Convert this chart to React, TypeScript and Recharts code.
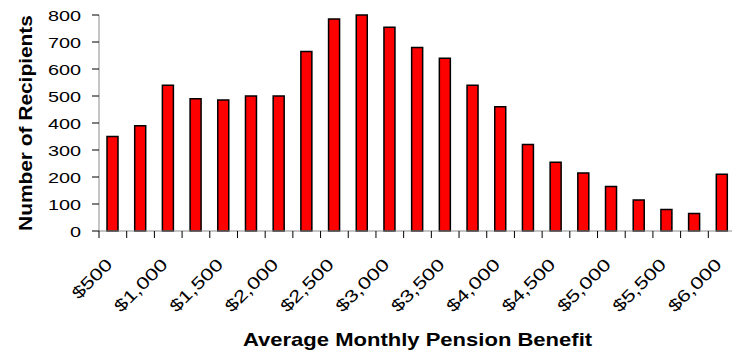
import { BarChart, Bar, XAxis, YAxis } from 'recharts';

// Monthly benefit buckets ($250 wide) and how many recipients fall in each
const amounts = [
  500, 750, 1000, 1250, 1500, 1750, 2000, 2250, 2500, 2750, 3000, 3250,
  3500, 3750, 4000, 4250, 4500, 4750, 5000, 5250, 5500, 5750, 6000,
];
const recipients = [
  350, 390, 540, 490, 485, 500, 500, 665, 785, 800, 755, 680,
  640, 540, 460, 320, 255, 215, 165, 115, 80, 65, 210,
];
const labelAmounts = [500, 1000, 1500, 2000, 2500, 3000, 3500, 4000, 4500, 5000, 5500, 6000];
const countTicks = [0, 100, 200, 300, 400, 500, 600, 700, 800];

const FONT = "'Liberation Sans', Arial, sans-serif";

const step = amounts[1] - amounts[0];
// tick marks sit between the buckets, labels under every other bucket
const edges = [...amounts.map((a) => a - step / 2), amounts[amounts.length - 1] + step / 2];
const domain: [number, number] = [edges[0], edges[edges.length - 1]];
const xTicks = [...edges, ...labelAmounts].sort((a, b) => a - b);

const data = amounts.map((amount, i) => ({ amount, recipients: recipients[i] }));

const money = (v: number) => `$${v.toLocaleString('en-US')}`;

function CountTick({ x, y, payload }: any) {
  return (
    <g transform={`translate(${x},${y}) scale(1.28,1)`}>
      <text x={0} y={0} dy="0.36em" textAnchor="end" fontSize={15.5} fontFamily={FONT} fill="#000">
        {payload.value}
      </text>
    </g>
  );
}

function AmountTick({ x, y, payload }: any) {
  const v = payload.value;
  if (edges.includes(v)) {
    return <line x1={x} x2={x} y1={y} y2={y + 7} stroke="#000" strokeWidth={1} />;
  }
  return (
    <g transform={`translate(${x - 8},${y + 26}) rotate(-45) scale(1.3,1)`}>
      <text x={0} y={0} dy="0.71em" textAnchor="end" fontSize={17} fontFamily={FONT} fill="#000">
        {money(v)}
      </text>
    </g>
  );
}

function YTitle({ viewBox }: any) {
  const cx = viewBox.x + 32;
  const cy = viewBox.y + viewBox.height / 2;
  return (
    <g transform={`translate(${cx},${cy}) rotate(-90) scale(1.13,1)`}>
      <text x={0} y={0} textAnchor="middle" fontSize={18.5} fontWeight="bold" fontFamily={FONT} fill="#000">
        Number of Recipients
      </text>
    </g>
  );
}

function XTitle({ viewBox }: any) {
  const cx = viewBox.x + viewBox.width / 2;
  const cy = viewBox.y + 115;
  return (
    <g transform={`translate(${cx},${cy}) scale(1.16,1)`}>
      <text x={0} y={0} textAnchor="middle" fontSize={19} fontWeight="bold" fontFamily={FONT} fill="#000">
        Average Monthly Pension Benefit
      </text>
    </g>
  );
}

export default function App() {
  return (
    <div
      style={{
        position: 'absolute',
        left: 0,
        top: 0,
        width: 732,
        height: 353,
        overflow: 'hidden',
        background: '#fff',
      }}
    >
      <BarChart width={750} height={353} data={data} margin={{ top: 15, right: 14, bottom: 0, left: 0 }}>
        <YAxis
          width={99}
          domain={[0, 800]}
          ticks={countTicks}
          interval={0}
          tickSize={7}
          tickMargin={11}
          tick={<CountTick />}
          axisLine={{ stroke: '#8c8c8c' }}
          tickLine={{ stroke: '#000' }}
          label={<YTitle />}
        />
        <XAxis
          type="number"
          dataKey="amount"
          domain={domain}
          ticks={xTicks}
          interval={0}
          height={122}
          tickSize={0}
          tickMargin={0}
          axisLine={{ stroke: '#8c8c8c' }}
          tickLine={false}
          tick={<AmountTick />}
          label={<XTitle />}
        />
        <Bar
          dataKey="recipients"
          fill="#ff0000"
          stroke="#000"
          strokeWidth={1.5}
          barSize={11}
          isAnimationActive={false}
        />
      </BarChart>
    </div>
  );
}
